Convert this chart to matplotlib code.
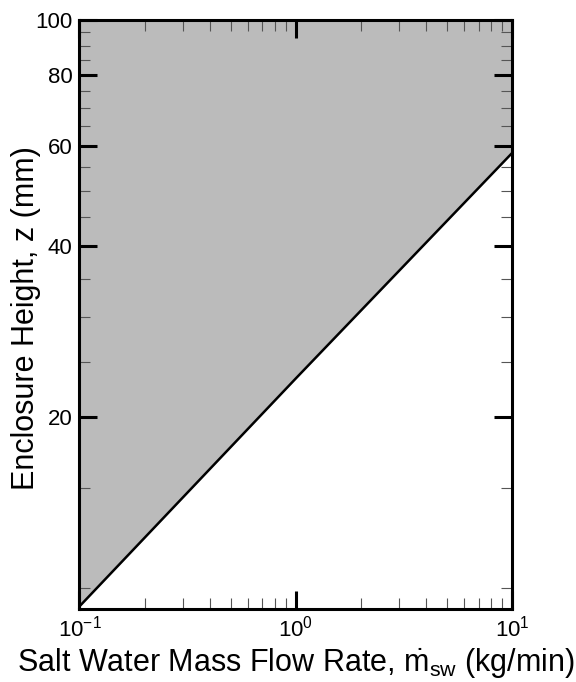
import numpy as np
import matplotlib
matplotlib.use('Agg')
import matplotlib.pyplot as plt
from matplotlib.ticker import FixedLocator, FixedFormatter, NullFormatter, LogLocator, LogFormatterSciNotation

plt.rcParams['font.family'] = ['Liberation Sans', 'DejaVu Sans']
plt.rcParams['mathtext.fontset'] = 'custom'
plt.rcParams['mathtext.rm'] = 'Liberation Sans'
plt.rcParams['mathtext.it'] = 'Liberation Sans'
plt.rcParams['mathtext.bf'] = 'Liberation Sans:bold'

# boundary line
flow_rate = [0.1, 1.0, 10.0]        # kg/min
height = [9.3, 23.4, 58.3]          # mm

y_major = [20, 40, 60, 80, 100]
y_minor = [10, 15, 25, 30, 35, 45, 50, 55, 65, 70, 75, 85, 90, 95]

fig = plt.figure(figsize=(5.76, 6.82), dpi=100)
ax = fig.add_axes([0.138, 0.107, 0.751, 0.864])

ax.fill_between(flow_rate, height, 100, color='#bbbbbb', linewidth=0)
ax.plot(flow_rate, height, color='black', lw=1.8)

ax.set_xscale('log')
ax.set_yscale('log')
ax.set_xlim(0.1, 10)
ax.set_ylim(9.2, 100)

ax.xaxis.set_major_locator(LogLocator(base=10))
ax.xaxis.set_major_formatter(LogFormatterSciNotation())
ax.xaxis.set_minor_locator(LogLocator(base=10, subs=np.arange(2, 10)))
ax.xaxis.set_minor_formatter(NullFormatter())

ax.yaxis.set_major_locator(FixedLocator(y_major))
ax.yaxis.set_major_formatter(FixedFormatter([str(v) for v in y_major]))
ax.yaxis.set_minor_locator(FixedLocator(y_minor))
ax.yaxis.set_minor_formatter(NullFormatter())

for s in ax.spines.values():
    s.set_linewidth(2.2)

ax.tick_params(which='both', direction='in', top=True, right=True, labelsize=16)
ax.tick_params(which='major', length=13, width=2.2, pad=5)
ax.tick_params(which='minor', length=8, width=0.8, color='#555555')

ax.set_xlabel(r'Salt Water Mass Flow Rate, $\dot{\rm m}_{\rm sw}$ (kg/min)', fontsize=22, labelpad=3)
ax.set_ylabel('Enclosure Height, z (mm)', fontsize=22)
ax.yaxis.set_label_coords(-0.090, 0.494)

fig.savefig('out.png', dpi=100)
